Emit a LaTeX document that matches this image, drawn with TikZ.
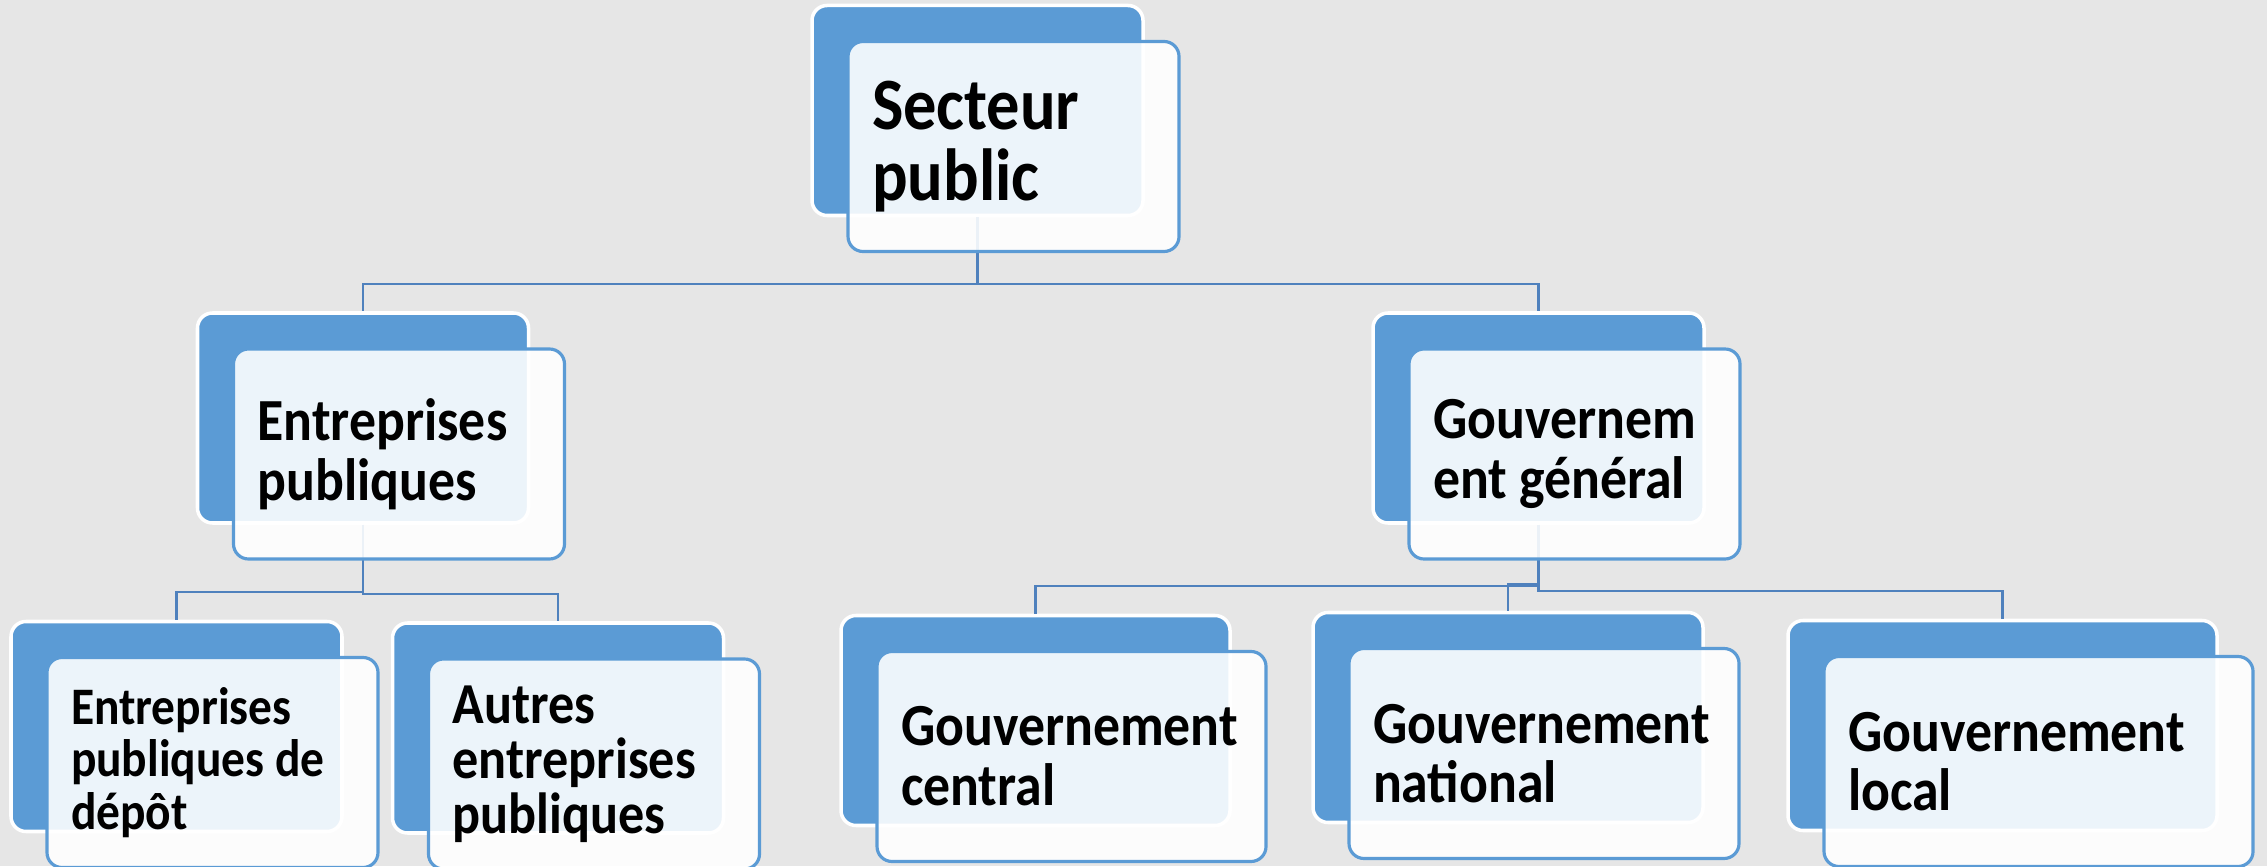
\documentclass[tikz,border=0pt]{standalone}
\usepackage{fontspec}
\setmainfont{Carlito}[FakeStretch=0.9]
\usepackage{tikz}
\definecolor{backdrop}{HTML}{E6E6E6}
\definecolor{accent}{HTML}{5B9BD5}
\definecolor{linkblue}{HTML}{4F81BD}
\tikzset{
    back box/.style={rectangle,rounded corners=0.15cm,fill=accent,draw=white,line width=1pt,
        minimum width=#1,minimum height=2.1cm,inner sep=0pt},
    back box/.default=3.31cm,
    front box/.style={rectangle,rounded corners=0.15cm,fill=white,fill opacity=0.89,text opacity=1,
        draw=accent,line width=0.9pt,text width=#1,minimum height=2.1cm,inner xsep=0.24cm,inner ysep=0pt,
        align=flush left,font=\bfseries\fontsize{17}{17}\selectfont},
    front box/.default=2.83cm,
    link/.style={draw=linkblue,line width=0.7pt},
}

\begin{document}
\begin{tikzpicture}
    \path[use as bounding box] (0,0) rectangle (22.67,8.66);
    \fill[backdrop] (0,0) rectangle (22.67,8.66);

    % back boxes
    \node[back box] (SP) at (9.775,7.555) {};
    \node[back box] (EP) at (3.63,4.48) {};
    \node[back box] (GG) at (15.385,4.48) {};
    \node[back box] (EPD) at (1.765,1.395) {};
    \node[back box] (AEP) at (5.58,1.38) {};
    \node[back box=3.89cm] (GC) at (10.355,1.455) {};
    \node[back box=3.90cm] (GN) at (15.08,1.485) {};
    \node[back box=4.29cm] (GL) at (20.025,1.405) {};

    % connectors
    \draw[link] (SP.south) -- ++(0,-0.665) -| (EP.north);
    \draw[link] (SP.south) -- ++(0,-0.665) -| (GG.north);
    \draw[link] (EP.south) -- ++(0,-0.67) -| (EPD.north);
    \draw[link] (EP.south) -- ++(0,-0.69) -| (AEP.north);
    \draw[link] (GG.south) -- ++(0,-0.61) -| (GC.north);
    \draw[link] (GG.south) -- ++(0,-0.59) -| (GN.north);
    \draw[link] (GG.south) -- ++(0,-0.66) -| (GL.north);

    % front boxes with the texts
    \node[front box,font=\bfseries\fontsize{21}{20}\selectfont] (SPt) at ([shift={(0.36,-0.36)}]SP.center) {Secteur\\public};
    \node[front box] (EPt) at ([shift={(0.36,-0.36)}]EP.center) {Entreprises\\publiques};
    \node[front box] (GGt) at ([shift={(0.36,-0.36)}]GG.center) {Gouvernem\\ent général};
    \node[front box,font=\bfseries\fontsize{15}{15}\selectfont] (EPDt) at ([shift={(0.36,-0.36)}]EPD.center) {Entreprises\\publiques de\\dépôt};
    \node[front box,font=\bfseries\fontsize{16.5}{15.6}\selectfont] (AEPt) at ([shift={(0.36,-0.36)}]AEP.center) {Autres\\entreprises\\publiques};
    \node[front box=3.41cm] (GCt) at ([shift={(0.36,-0.36)}]GC.center) {Gouvernement\\central};
    \node[front box=3.42cm] (GNt) at ([shift={(0.36,-0.36)}]GN.center) {Gouvernement\\national};
    \node[front box=3.81cm] (GLt) at ([shift={(0.36,-0.36)}]GL.center) {Gouvernement\\local};
\end{tikzpicture}
\end{document}
